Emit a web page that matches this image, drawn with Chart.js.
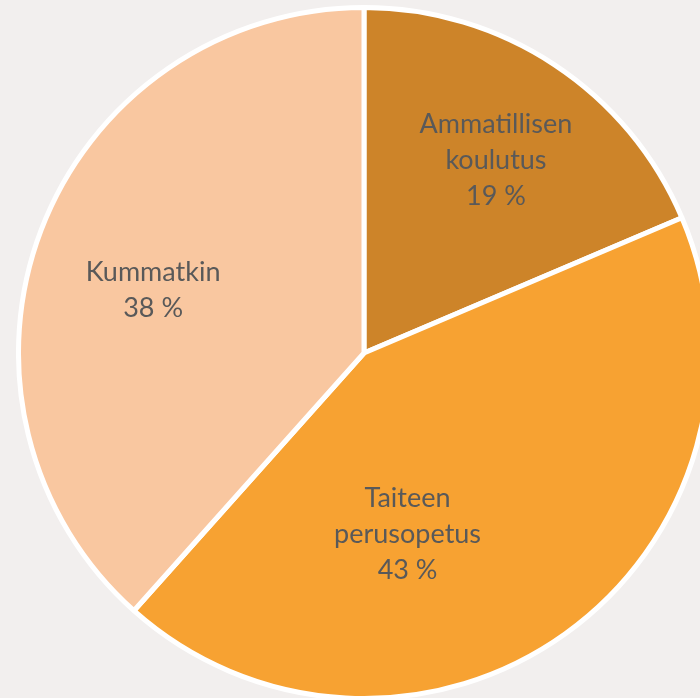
<!DOCTYPE html>
<html><head><meta charset="utf-8">
<script src="https://cdn.jsdelivr.net/npm/chart.js@4.4.1/dist/chart.umd.min.js"></script>
<style>
html,body{margin:0;padding:0;background:#F2EFEE;width:700px;height:698px;overflow:hidden;position:relative;}
#wrap{position:absolute;left:16px;top:5px;width:696px;height:696px;}
</style></head>
<body>
<div id="wrap"><canvas id="c" width="696" height="696"></canvas></div>
<script>
const categories = [["Ammatillisen", "koulutus"], ["Taiteen", "perusopetus"], ["Kummatkin"]];
const values = [18.6, 43.0, 38.4];
const colors = ["#CD8429", "#F7A232", "#F9C7A0"];
const labelPlacement = [{t:0.513, r:0.677}, {t:0.643, r:0.54}, {t:0.469, r:0.637}];

const labelPlugin = {
  id: 'sliceLabels',
  afterDatasetsDraw(chart) {
    const ctx = chart.ctx;
    const meta = chart.getDatasetMeta(0);
    ctx.save();
    ctx.fillStyle = '#595959';
    ctx.font = '27px Lato, "Liberation Sans", sans-serif';
    ctx.textAlign = 'center';
    ctx.textBaseline = 'middle';
    const lh = 36;
    meta.data.forEach((arc, i) => {
      const p = labelPlacement[i];
      const a = arc.startAngle + (arc.endAngle - arc.startAngle) * p.t;
      const rr = arc.outerRadius * p.r;
      const cx = arc.x + Math.cos(a) * rr;
      const cy = arc.y + Math.sin(a) * rr;
      const lines = categories[i].concat([Math.round(values[i]) + ' %']);
      const y0 = cy - (lines.length - 1) * lh / 2;
      lines.forEach((ln, k) => ctx.fillText(ln, cx, y0 + k * lh));
    });
    ctx.restore();
  }
};

new Chart(document.getElementById('c'), {
  type: 'pie',
  data: {
    labels: categories.map(c => c.join(' ')),
    datasets: [{ data: values, backgroundColor: colors, borderColor: '#FFFFFF', borderWidth: 5 }]
  },
  options: {
    responsive: false,
    animation: false,
    layout: { padding: 0 },
    plugins: { legend: { display: false }, tooltip: { enabled: false } }
  },
  plugins: [labelPlugin]
});
</script>
</body></html>
